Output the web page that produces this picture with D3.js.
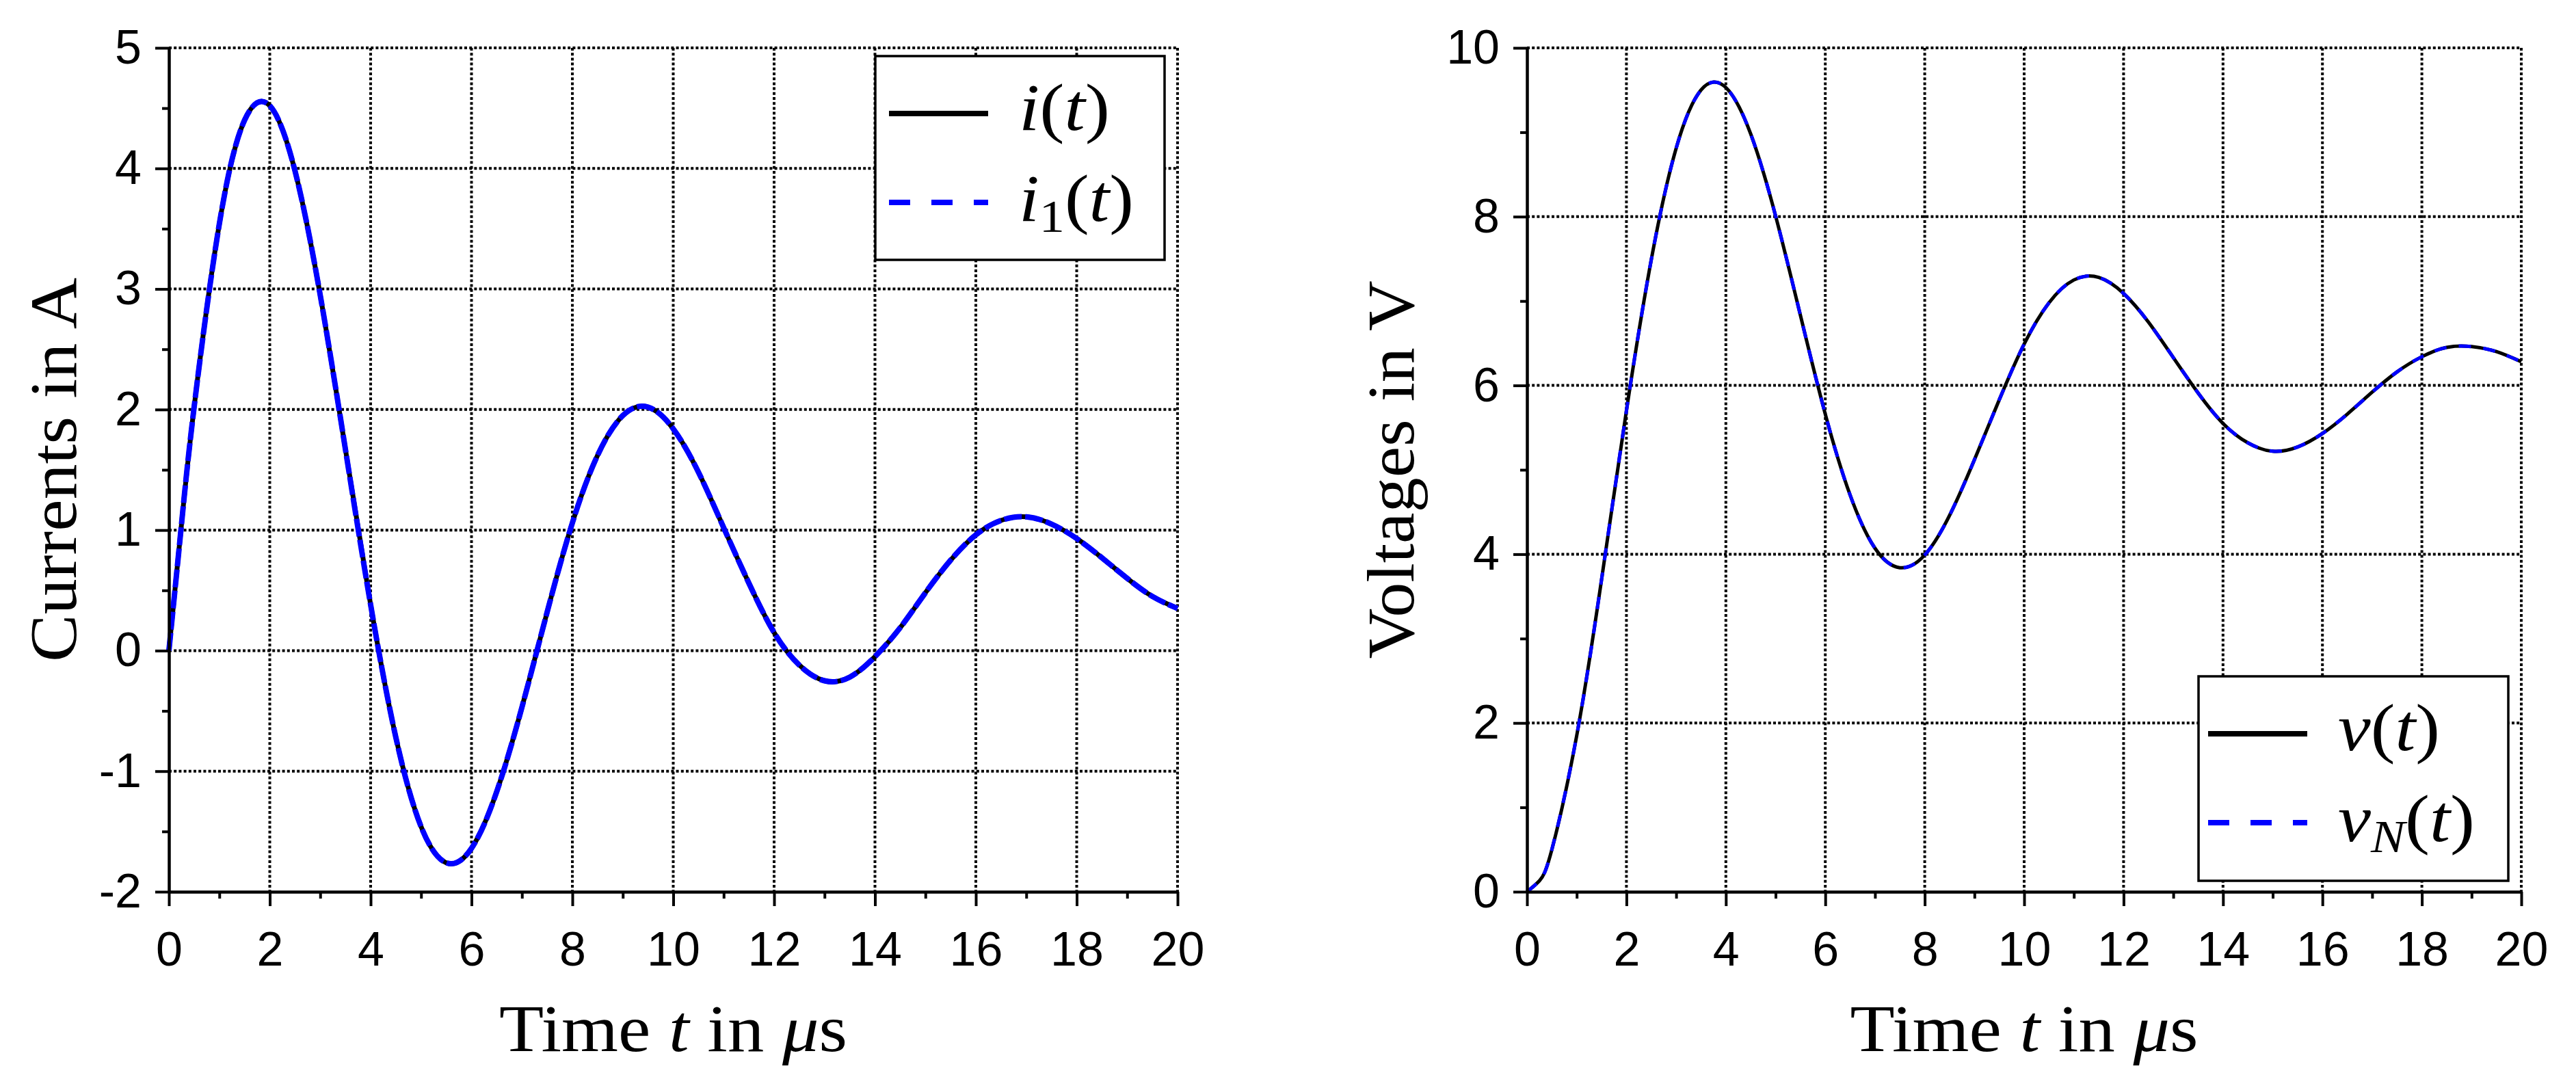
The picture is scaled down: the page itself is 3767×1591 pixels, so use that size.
<!DOCTYPE html>
<html><head><meta charset="utf-8">
<script src="https://cdn.jsdelivr.net/npm/d3@7"></script>
<style>html,body{margin:0;padding:0;background:#fff;overflow:hidden}</style>
</head><body><svg id="chart"></svg>
<script>
// ---- data ----
const timeUs = [0, 0.25, 0.5, 1, 1.5, 2, 2.5, 3, 3.5, 4, 4.5, 5, 5.5, 6, 6.5, 7, 7.5, 8, 8.5, 9, 9.5, 10,
  10.5, 11, 11.5, 12, 12.5, 13, 13.5, 14, 14.5, 15, 15.5, 16, 16.5, 17, 17.5, 18, 18.5, 19, 19.5, 20];
const currentI = [0, 1.05, 2.02, 3.54, 4.40, 4.52, 3.98, 2.95, 1.67, 0.38, -0.72, -1.46, -1.76, -1.64, -1.17,
  -0.47, 0.32, 1.06, 1.62, 1.95, 2.02, 1.84, 1.48, 1.02, 0.56, 0.15, -0.12, -0.25, -0.22, -0.05, 0.19, 0.48,
  0.75, 0.96, 1.08, 1.11, 1.05, 0.93, 0.77, 0.60, 0.45, 0.35];
const currentI1 = [0, 1.05, 2.02, 3.54, 4.40, 4.52, 3.98, 2.95, 1.67, 0.38, -0.72, -1.46, -1.76, -1.64, -1.17,
  -0.47, 0.32, 1.06, 1.62, 1.95, 2.02, 1.84, 1.48, 1.02, 0.56, 0.15, -0.12, -0.25, -0.22, -0.05, 0.19, 0.48,
  0.75, 0.96, 1.08, 1.11, 1.05, 0.93, 0.77, 0.60, 0.45, 0.35];
const voltageV = [0, 0.13, 0.50, 1.85, 3.70, 5.70, 7.49, 8.81, 9.50, 9.53, 8.98, 8.01, 6.83, 5.66, 4.70, 4.07,
  3.84, 3.99, 4.46, 5.12, 5.83, 6.49, 6.98, 7.25, 7.28, 7.09, 6.75, 6.33, 5.91, 5.55, 5.32, 5.22, 5.27, 5.43,
  5.66, 5.92, 6.16, 6.34, 6.45, 6.46, 6.40, 6.28];
const voltageVN = [0, 0.13, 0.50, 1.85, 3.70, 5.70, 7.49, 8.81, 9.50, 9.53, 8.98, 8.01, 6.83, 5.66, 4.70, 4.07,
  3.84, 3.99, 4.46, 5.12, 5.83, 6.49, 6.98, 7.25, 7.28, 7.09, 6.75, 6.33, 5.91, 5.55, 5.32, 5.22, 5.27, 5.43,
  5.66, 5.92, 6.16, 6.34, 6.45, 6.46, 6.40, 6.28];
const xTickValues = [0, 2, 4, 6, 8, 10, 12, 14, 16, 18, 20];
const xMinorValues = [1, 3, 5, 7, 9, 11, 13, 15, 17, 19];
const currentTicks = [-2, -1, 0, 1, 2, 3, 4, 5];
const currentMinor = [-1.5, -0.5, 0.5, 1.5, 2.5, 3.5, 4.5];
const voltageTicks = [0, 2, 4, 6, 8, 10];
const voltageMinor = [1, 3, 5, 7, 9];

// ---- drawing ----
const W = 3767, H = 1591;
const svg = d3.select('#chart').attr('width', W).attr('height', H);
svg.append('rect').attr('width', W).attr('height', H).attr('fill', '#fff');

const SANS = "'Liberation Sans', Arial, sans-serif";
const SERIF = "'Liberation Serif', 'Times New Roman', serif";

function styleAxis(sel) {
  sel.attr('font-family', SANS).attr('font-size', 70);
  sel.select('.domain').attr('stroke', '#000').attr('stroke-width', 4);
  sel.selectAll('.tick line').attr('stroke', '#000').attr('stroke-width', 4);
  sel.selectAll('.tick text').attr('fill', '#000');
}

function addRich(textSel, parts) {
  parts.forEach(pt => {
    const ts = textSel.append('tspan').text(pt.t);
    if (pt.i) ts.attr('font-style', 'italic');
    if (pt.size) ts.attr('font-size', pt.size);
    if (pt.dy) ts.attr('dy', pt.dy);
  });
}

function drawPanel(p) {
  const x = d3.scaleLinear().domain([0, 20]).range([p.left, p.right]);
  const y = d3.scaleLinear().domain(p.yDomain).range([p.bottom, p.top]);
  const g = svg.append('g');

  // dotted grid
  const grid = g.append('g').attr('stroke', '#000').attr('stroke-width', 4)
    .attr('stroke-dasharray', '4,3.2').attr('fill', 'none');
  grid.selectAll('line.gv').data(xTickValues.filter(d => d !== 0)).join('line').attr('class', 'gv')
    .attr('x1', d => x(d)).attr('x2', d => x(d)).attr('y1', p.top).attr('y2', p.bottom);
  grid.selectAll('line.gh').data(p.yTicks.filter(d => d !== p.yDomain[0])).join('line').attr('class', 'gh')
    .attr('y1', d => y(d)).attr('y2', d => y(d)).attr('x1', p.left).attr('x2', p.right);

  // curves
  const line = d3.line().x((d, i) => x(timeUs[i])).y(d => y(d)).curve(d3.curveNatural);
  g.append('path').datum(p.series[0]).attr('d', line).attr('fill', 'none')
    .attr('stroke', '#000').attr('stroke-width', p.lw0);
  g.append('path').datum(p.series[1]).attr('d', line).attr('fill', 'none')
    .attr('stroke', '#0000ff').attr('stroke-width', p.lw1).attr('stroke-dasharray', p.dash);

  // axes
  const fmt = d => String(d);
  g.append('g').attr('transform', `translate(0,${p.bottom})`)
    .call(d3.axisBottom(x).tickValues(xMinorValues).tickSize(10).tickSizeOuter(0).tickFormat(''))
    .call(styleAxis);
  g.append('g').attr('transform', `translate(${p.left},0)`)
    .call(d3.axisLeft(y).tickValues(p.yMinor).tickSize(10).tickSizeOuter(0).tickFormat(''))
    .call(styleAxis);
  g.append('g').attr('transform', `translate(0,${p.bottom})`)
    .call(d3.axisBottom(x).tickValues(xTickValues).tickSize(21).tickSizeOuter(0).tickPadding(37).tickFormat(fmt))
    .call(styleAxis);
  g.append('g').attr('transform', `translate(${p.left},0)`)
    .call(d3.axisLeft(y).tickValues(p.yTicks).tickSize(20).tickSizeOuter(0).tickPadding(20).tickFormat(fmt))
    .call(styleAxis);

  // axis labels
  const xl = g.append('text').attr('x', (p.left + p.right) / 2).attr('y', 1537)
    .attr('text-anchor', 'middle').attr('font-family', SERIF).attr('font-size', 98)
    .attr('textLength', 509).attr('lengthAdjust', 'spacingAndGlyphs');
  addRich(xl, [{t: 'Time '}, {t: 't', i: true}, {t: ' in '}, {t: 'μ', i: true}, {t: 's'}]);

  g.append('text').attr('transform', `translate(${p.ylabelX},${(p.top + p.bottom) / 2}) rotate(-90)`)
    .attr('text-anchor', 'middle').attr('font-family', SERIF).attr('font-size', 98)
    .attr('textLength', p.ylabelLen).attr('lengthAdjust', 'spacingAndGlyphs')
    .text(p.ylabel);

  // legend
  const L = p.legend;
  const lg = g.append('g');
  lg.append('rect').attr('x', L.x).attr('y', L.y).attr('width', L.w).attr('height', L.h)
    .attr('fill', '#fff').attr('stroke', '#000').attr('stroke-width', 3.5);
  L.rows.forEach((r, k) => {
    const ly = L.y + (k === 0 ? 84 : 214);
    lg.append('line').attr('x1', L.x + L.sx).attr('x2', L.x + L.sx + 145).attr('y1', ly).attr('y2', ly)
      .attr('stroke', r.color).attr('stroke-width', 8).attr('stroke-dasharray', r.dash || null);
    const t = lg.append('text').attr('x', L.x + L.tx).attr('y', L.y + (k === 0 ? 108 : 241))
      .attr('font-family', SERIF).attr('font-size', 98)
      .attr('textLength', r.len).attr('lengthAdjust', 'spacingAndGlyphs');
    addRich(t, r.parts);
  });
}

drawPanel({
  left: 247, right: 1722, top: 70, bottom: 1304,
  yDomain: [-2, 5], yTicks: currentTicks, yMinor: currentMinor,
  series: [currentI, currentI1], lw0: 7, lw1: 8, dash: '26,5',
  ylabel: 'Currents in A', ylabelX: 111, ylabelLen: 562,
  legend: {x: 1280, y: 82, w: 423, h: 298, sx: 20, tx: 210, rows: [
    {color: '#000', len: 133, parts: [{t: 'i', i: true}, {t: '('}, {t: 't', i: true}, {t: ')'}]},
    {color: '#0000ff', dash: '31,31', len: 168, parts: [{t: 'i', i: true}, {t: '1', size: 68, dy: 16}, {t: '(', dy: -16}, {t: 't', i: true}, {t: ')'}]}
  ]}
});

drawPanel({
  left: 2233, right: 3687, top: 70, bottom: 1304,
  yDomain: [0, 10], yTicks: voltageTicks, yMinor: voltageMinor,
  series: [voltageV, voltageVN], lw0: 5, lw1: 5, dash: '18,18',
  ylabel: 'Voltages in V', ylabelX: 2067, ylabelLen: 553,
  legend: {x: 3215, y: 989, w: 453, h: 299, sx: 14, tx: 204, rows: [
    {color: '#000', len: 149, parts: [{t: 'v', i: true}, {t: '('}, {t: 't', i: true}, {t: ')'}]},
    {color: '#0000ff', dash: '31,31', len: 200, parts: [{t: 'v', i: true}, {t: 'N', i: true, size: 68, dy: 16}, {t: '(', dy: -16}, {t: 't', i: true}, {t: ')'}]}
  ]}
});
</script>
</body></html>
